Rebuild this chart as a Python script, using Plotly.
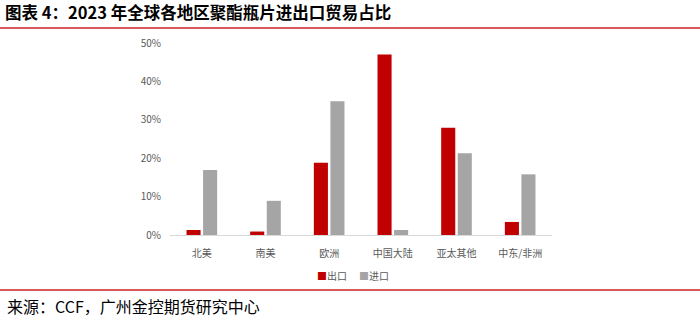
import plotly.graph_objects as go

categories = ["北美", "南美", "欧洲", "中国大陆", "亚太其他", "中东/非洲"]
export_share = [1.3, 0.9, 18.8, 47.0, 27.9, 3.4]
import_share = [16.9, 8.9, 34.8, 1.3, 21.3, 15.8]
y_ticks = [0, 10, 20, 30, 40, 50]
y_tick_labels = ["0%", "10%", "20%", "30%", "40%", "50%"]
series_names = ["出口", "进口"]
series_colors = ["#C00000", "#A5A5A5"]

W, H = 700, 320
L, R, T, B = 170, 148, 43, 85
PW, PH = W - L - R, H - T - B

def px(x):
    return (x - L) / PW

def py(y):
    return (H - B - y) / PH

font_cjk = "Noto Sans CJK SC"

fig = go.Figure()
fig.add_trace(go.Bar(x=categories, y=export_share, name=series_names[0], showlegend=False,
                     marker=dict(color=series_colors[0], line=dict(width=0))))
fig.add_trace(go.Bar(x=categories, y=import_share, name=series_names[1], showlegend=False,
                     marker=dict(color=series_colors[1], line=dict(width=0))))

fig.update_layout(
    width=W, height=H,
    margin=dict(l=L, r=R, t=T, b=B, pad=0),
    paper_bgcolor="white", plot_bgcolor="white",
    barmode="group", bargap=0.48, bargroupgap=0.15,
    font=dict(family=font_cjk, size=10, color="#595959"),
    showlegend=False,
    xaxis=dict(showline=True, linecolor="#D9D9D9", linewidth=1, ticks="",
               ticklabelstandoff=9,
               tickfont=dict(size=10, color="#595959"), showgrid=False, fixedrange=True),
    yaxis=dict(range=[0, 50], tickvals=y_ticks, ticktext=y_tick_labels, showgrid=False,
               zeroline=False, showline=False, ticks="", ticklabelstandoff=8,
               tickfont=dict(size=10, color="#595959"), fixedrange=True),
)

# legend drawn as text: colored square + series name, one item each
legend_x = [315, 357]
for n, c, lx in zip(series_names, series_colors, legend_x):
    fig.add_annotation(text=f"<span style='color:{c}'>■</span>{n}", xref="paper", yref="paper",
                       x=px(lx), y=py(275), xanchor="left", yanchor="middle", showarrow=False,
                       font=dict(family=font_cjk, size=10, color="#595959"))

fig.add_annotation(text="<b>图表 4：2023 年全球各地区聚酯瓶片进出口贸易占比</b>",
                   xref="paper", yref="paper", x=px(3), y=py(12), xanchor="left", yanchor="middle",
                   showarrow=False, font=dict(family=font_cjk, size=16.5, color="#000000"))
fig.add_annotation(text="来源：CCF，广州金控期货研究中心",
                   xref="paper", yref="paper", x=px(5), y=py(306), xanchor="left", yanchor="middle",
                   showarrow=False, font=dict(family=font_cjk, size=16, color="#000000"))

for yy in (28, 290):
    fig.add_shape(type="line", xref="paper", yref="paper", x0=px(0), x1=px(700), y0=py(yy), y1=py(yy),
                  line=dict(color="#D9595B", width=2))

fig.write_html("out.html")
